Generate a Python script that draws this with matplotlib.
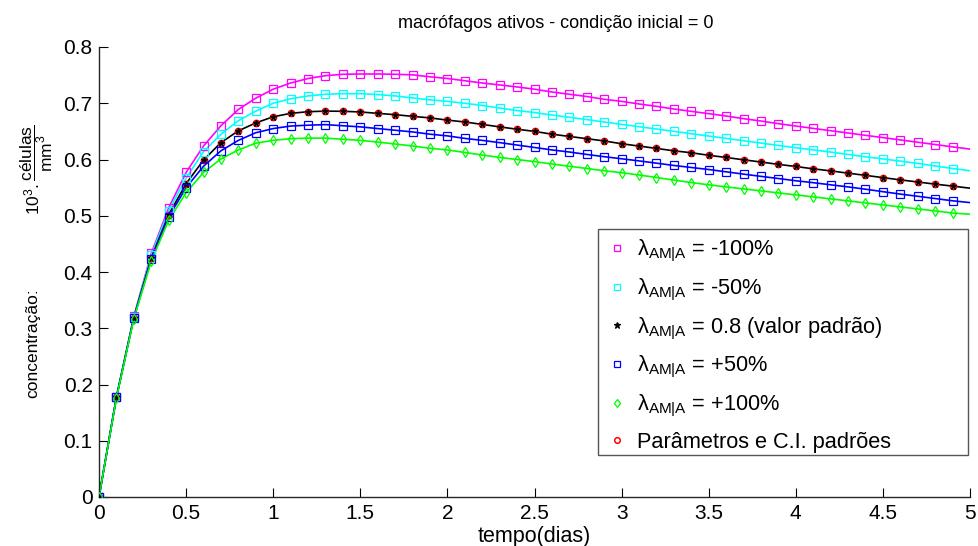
import matplotlib
matplotlib.use("Agg")
import matplotlib.pyplot as plt
from matplotlib.patches import Rectangle
import numpy as np

plt.rcParams['font.family'] = ['Liberation Sans', 'DejaVu Sans']
plt.rcParams['mathtext.fontset'] = 'custom'
plt.rcParams['mathtext.rm'] = 'Liberation Sans'
plt.rcParams['mathtext.it'] = 'Liberation Sans:italic'
plt.rcParams['mathtext.bf'] = 'Liberation Sans:bold'
plt.rcParams['mathtext.default'] = 'rm'

# time (days), sampled every 0.1 day
tempo = [round(0.1 * i, 1) for i in range(51)]

# active macrophages, 10^3 cells/mm^3
lam_m100 = [0, 0.178, 0.321, 0.433, 0.514, 0.577, 0.624, 0.660, 0.689, 0.709,
            0.725, 0.736, 0.744, 0.749, 0.7515, 0.752, 0.752, 0.7515, 0.7505, 0.747,
            0.744, 0.740, 0.736, 0.7325, 0.729, 0.725, 0.720, 0.716, 0.712, 0.707,
            0.7034, 0.6987, 0.6945, 0.6898, 0.6856, 0.6815, 0.6773, 0.6726, 0.6684, 0.6637,
            0.6595, 0.6553, 0.6512, 0.6471, 0.643, 0.6389, 0.6348, 0.6307, 0.6266, 0.6225,
            0.6185]
lam_m50 = [0, 0.178, 0.320, 0.430, 0.509, 0.567, 0.614, 0.645, 0.669, 0.686,
           0.700, 0.708, 0.713, 0.716, 0.717, 0.717, 0.7155, 0.713, 0.7095, 0.706,
           0.7034, 0.700, 0.696, 0.6915, 0.687, 0.6835, 0.679, 0.675, 0.671, 0.6667,
           0.6624, 0.6583, 0.6542, 0.650, 0.6458, 0.6417, 0.6375, 0.6333, 0.6292, 0.625,
           0.6209, 0.6171, 0.6132, 0.609, 0.6048, 0.601, 0.5971, 0.593, 0.5885, 0.584,
           0.580]
lam_pad = [0, 0.177, 0.319, 0.425, 0.502, 0.557, 0.599, 0.630, 0.651, 0.665,
           0.676, 0.682, 0.685, 0.686, 0.6857, 0.6845, 0.682, 0.6797, 0.6767, 0.674,
           0.670, 0.6667, 0.6624, 0.658, 0.6538, 0.650, 0.645, 0.641, 0.637, 0.633,
           0.628, 0.6239, 0.6197, 0.6155, 0.612, 0.6075, 0.6036, 0.5995, 0.5955, 0.5913,
           0.5876, 0.5834, 0.5798, 0.5757, 0.5718, 0.5678, 0.5638, 0.5600, 0.5562, 0.5527,
           0.549]
lam_p50 = [0, 0.177, 0.318, 0.423, 0.498, 0.550, 0.588, 0.6155, 0.634, 0.6476,
           0.655, 0.6595, 0.661, 0.662, 0.660, 0.658, 0.655, 0.652, 0.649, 0.645,
           0.642, 0.6375, 0.634, 0.630, 0.6257, 0.6214, 0.617, 0.6133, 0.609, 0.605,
           0.6013, 0.5975, 0.5935, 0.5894, 0.5858, 0.5822, 0.5781, 0.574, 0.5700, 0.5662,
           0.5622, 0.5588, 0.555, 0.5513, 0.5472, 0.5428, 0.5385, 0.5346, 0.5306, 0.5266,
           0.5234]
lam_p100 = [0, 0.176, 0.317, 0.419, 0.492, 0.541, 0.577, 0.601, 0.617, 0.629,
            0.634, 0.637, 0.638, 0.638, 0.636, 0.634, 0.631, 0.6275, 0.624, 0.620,
            0.617, 0.6125, 0.608, 0.6036, 0.600, 0.5962, 0.592, 0.588, 0.584, 0.580,
            0.5765, 0.5725, 0.568, 0.5635, 0.559, 0.555, 0.5513, 0.5478, 0.5442, 0.5406,
            0.5371, 0.5335, 0.530, 0.5264, 0.5228, 0.5193, 0.5157, 0.5121, 0.5086, 0.5048,
            0.5027]

rotulos = [r'$\lambda_{AM|A}$ = -100%',
           r'$\lambda_{AM|A}$ = -50%',
           r'$\lambda_{AM|A}$ = 0.8 (valor padrão)',
           r'$\lambda_{AM|A}$ = +50%',
           r'$\lambda_{AM|A}$ = +100%',
           'Parâmetros e C.I. padrões']

x_ticks = [0, 0.5, 1, 1.5, 2, 2.5, 3, 3.5, 4, 4.5, 5]
x_tick_labels = ['0', '0.5', '1', '1.5', '2', '2.5', '3', '3.5', '4', '4.5', '5']
y_ticks = [0, 0.1, 0.2, 0.3, 0.4, 0.5, 0.6, 0.7, 0.8]
y_tick_labels = ['0', '0.1', '0.2', '0.3', '0.4', '0.5', '0.6', '0.7', '0.8']

W, H = 979, 546
fig = plt.figure(figsize=(W / 100, H / 100), dpi=100)
ax = fig.add_axes([99 / W, 49 / H, 871 / W, 450 / H])

t = np.array(tempo)
series = [
    (lam_m100, (1, 0, 1), 's', 5.2, 'none'),
    (lam_m50, (0, 1, 1), 's', 5.2, 'none'),
    (lam_pad, (0, 0, 0), '*', 5.0, (0, 0, 0)),
    (lam_p50, (0, 0, 1), 's', 5.2, 'none'),
    (lam_p100, (0, 1, 0), 'd', 5.0, 'none'),
]

# continuous solutions
for y, c, m, ms, fc in series:
    ax.plot(t, y, '-', color=c, lw=1.2, zorder=2)

# markers every 0.1 day (up to 4.9)
for (y, c, m, ms, fc), lab in zip(series, rotulos[:5]):
    ax.plot(t[:-1], y[:-1], linestyle='none', marker=m, markersize=ms,
            markeredgecolor=c, markerfacecolor=fc, markeredgewidth=0.9,
            color=c, label=lab, zorder=3)
ax.plot(t[:-1], lam_pad[:-1], linestyle='none', marker='o', markersize=4.5,
        markeredgecolor=(1, 0, 0), markerfacecolor='none', markeredgewidth=1.1,
        label=rotulos[5], zorder=2.5)

ax.set_xlim(0, 5)
ax.set_ylim(0, 0.8)
ax.set_xticks(x_ticks)
ax.set_xticklabels(x_tick_labels)
ax.set_yticks(y_ticks)
ax.set_yticklabels(y_tick_labels)
ax.tick_params(direction='in', length=6.5, width=0.8, labelsize=15, colors='black')
ax.tick_params(axis='x', pad=5)
ax.tick_params(axis='y', pad=4.5)
for s in ('top', 'right'):
    ax.spines[s].set_visible(False)
for s in ('left', 'bottom'):
    ax.spines[s].set_linewidth(1.0)
    ax.spines[s].set_color('#262626')

ax.set_title('macrófagos ativos - condição inicial = 0', fontsize=13, pad=14,
             x=(556 - 99) / 871)
ax.set_xlabel('tempo(dias)', fontsize=15.5, labelpad=2)

# y-axis label: caption and unit fraction
fig.text(33 / W, 1 - 343 / H, 'concentração:', rotation=90, ha='center',
         va='center', fontsize=12.5)
fig.text(37 / W, 1 - 170 / H, r'$10^3.\dfrac{\mathrm{células}}{\mathrm{mm}^3}$',
         rotation=90, ha='center', va='center', fontsize=12.5)

# legend box
bx0, bx1 = (598 - 99) / 871, (968 - 99) / 871
by0, by1 = (497 - 455) / 450, (497 - 229) / 450
ax.add_patch(Rectangle((bx0, by0), bx1 - bx0, by1 - by0, transform=ax.transAxes,
                       facecolor='white', edgecolor='#555555', lw=1.0,
                       clip_on=False, zorder=4))
leg = ax.legend(loc='upper left', bbox_to_anchor=((610.5 - 99) / 871, (497 - 238) / 450),
                fontsize=15.7, frameon=False, handlelength=0.6, handletextpad=0.6,
                labelspacing=0.58, borderpad=0, markerscale=0.9, borderaxespad=0)
leg.set_zorder(5)

fig.savefig('out.png', dpi=100)
